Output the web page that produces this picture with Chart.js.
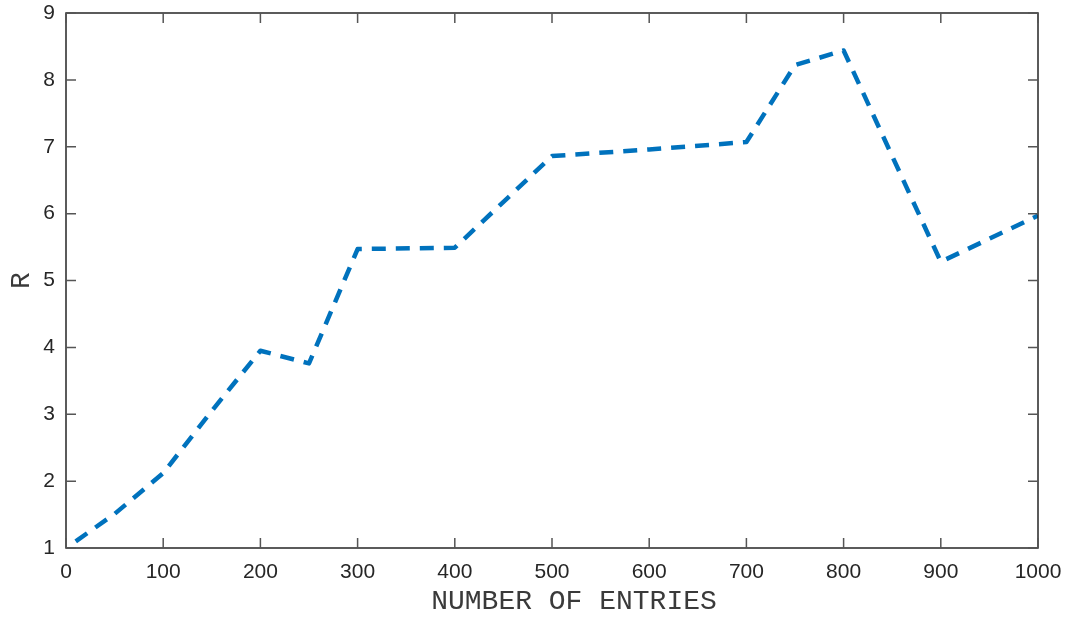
<!DOCTYPE html>
<html>
<head>
<meta charset="utf-8">
<script src="https://cdn.jsdelivr.net/npm/chart.js@4"></script>
<style>
  html, body { margin: 0; padding: 0; background: #ffffff; }
  #wrap { width: 1067px; height: 619px; position: relative; }
</style>
</head>
<body>
<div id="wrap"><canvas id="c"></canvas></div>
<script>
// Entry counts and the measured R for each
const entries = [10, 50, 100, 150, 200, 250, 300, 400, 500, 600, 700, 750, 800, 900, 1000];
const rValues = [1.1, 1.51, 2.12, 3.05, 3.95, 3.76, 5.47, 5.49, 6.86, 6.96, 7.07, 8.22, 8.44, 5.28, 5.97];

const xTicks = [0, 100, 200, 300, 400, 500, 600, 700, 800, 900, 1000];
const yTicks = [1, 2, 3, 4, 5, 6, 7, 8, 9];
const xTitle = 'NUMBER OF ENTRIES';
const yTitle = 'R';

const axisColor = '#262626';
const titleColor = '#3a3a3a';
const tickFont = { family: '"Liberation Sans", Arial, sans-serif', size: 21 };
const titleFont = { family: '"Liberation Mono", "Courier New", monospace', size: 28 };

// Box around the plot with inward ticks on all four sides, plus the x label
const boxTicks = {
  id: 'boxTicks',
  afterDatasetsDraw(chart) {
    const { ctx, chartArea: a, scales: { x, y } } = chart;
    const len = 10;
    ctx.save();
    ctx.strokeStyle = axisColor;
    ctx.lineWidth = 1.5;
    ctx.beginPath();
    ctx.rect(a.left, a.top, a.right - a.left, a.bottom - a.top);
    ctx.stroke();
    ctx.strokeStyle = '#555555';
    ctx.beginPath();
    xTicks.forEach(v => {
      const px = x.getPixelForValue(v);
      ctx.moveTo(px, a.bottom); ctx.lineTo(px, a.bottom - len);
      ctx.moveTo(px, a.top); ctx.lineTo(px, a.top + len);
    });
    yTicks.forEach(v => {
      const py = y.getPixelForValue(v);
      ctx.moveTo(a.left, py); ctx.lineTo(a.left + len, py);
      ctx.moveTo(a.right, py); ctx.lineTo(a.right - len, py);
    });
    ctx.stroke();

    // x-axis label, set slightly right of the plot centre
    ctx.fillStyle = titleColor;
    ctx.font = `${titleFont.size}px ${titleFont.family}`;
    ctx.textAlign = 'center';
    ctx.textBaseline = 'middle';
    ctx.fillText(xTitle, (a.left + a.right) / 2 + 22, a.bottom + 54);
    ctx.restore();
  }
};

// Let the plot area fill the fixed margins exactly
function fixMargins(s) {
  s.paddingTop = 0; s.paddingBottom = 0; s.paddingLeft = 0; s.paddingRight = 0;
}

new Chart(document.getElementById('c'), {
  type: 'line',
  data: {
    datasets: [{
      data: entries.map((e, i) => ({ x: e, y: rValues[i] })),
      borderColor: '#0072BD',
      borderWidth: 4.5,
      borderDash: [14, 10],
      borderCapStyle: 'butt',
      borderJoinStyle: 'round',
      pointRadius: 0,
      fill: false,
      tension: 0
    }]
  },
  options: {
    responsive: true,
    maintainAspectRatio: false,
    animation: false,
    devicePixelRatio: 1,
    layout: { padding: { top: 13, right: 29, bottom: 0, left: 0 } },
    plugins: { legend: { display: false }, tooltip: { enabled: false } },
    scales: {
      x: {
        type: 'linear',
        min: 0, max: 1000,
        afterBuildTicks(s) { s.ticks = xTicks.map(v => ({ value: v })); },
        afterFit(s) { s.height = 71; fixMargins(s); },
        grid: { display: false, drawTicks: false },
        border: { display: false },
        ticks: { color: axisColor, font: tickFont, padding: 12, maxRotation: 0, callback: v => String(v) },
        title: { display: false }
      },
      y: {
        type: 'linear',
        min: 1, max: 9,
        afterBuildTicks(s) { s.ticks = yTicks.map(v => ({ value: v })); },
        afterFit(s) { s.width = 66; fixMargins(s); },
        grid: { display: false, drawTicks: false },
        border: { display: false },
        ticks: { color: axisColor, font: tickFont, padding: 11, callback: v => String(v) },
        title: { display: true, text: yTitle, color: titleColor, font: titleFont, padding: { top: 5, bottom: 0 } }
      }
    }
  },
  plugins: [boxTicks]
});
</script>
</body>
</html>
